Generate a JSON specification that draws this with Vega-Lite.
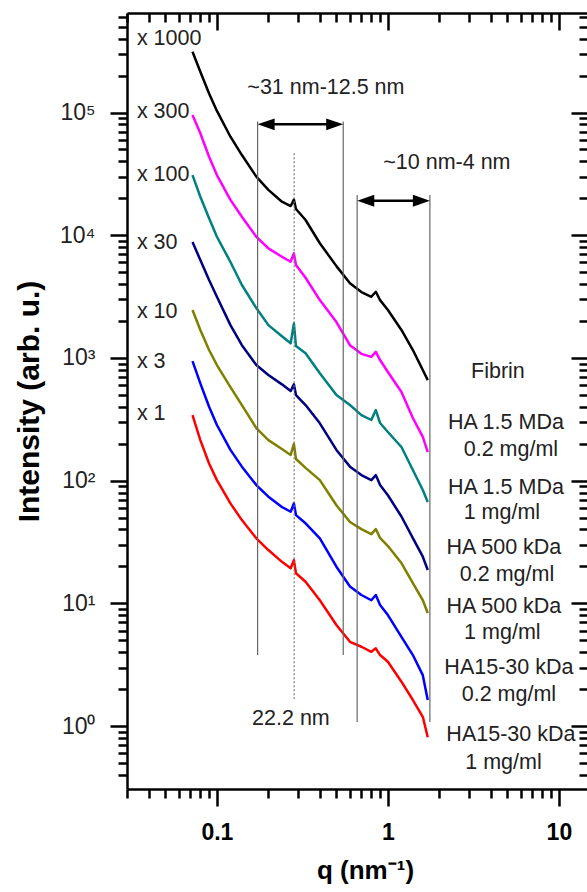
{
  "$schema": "https://vega.github.io/schema/vega-lite/v6.json",
  "width": 461,
  "height": 776,
  "autosize": "none",
  "padding": {"left": 127, "top": 13, "right": 0, "bottom": 103},
  "background": "white",
  "config": {"font": "Liberation Sans", "view": {"stroke": null}},
  "datasets": {
    "curves": [
      {"q": 0.072, "Fibrin": 313000, "M02": 95400, "M1": 30900, "K02": 8800, "K1": 2460, "S02": 943, "S1": 342},
      {"q": 0.08, "Fibrin": 215000, "M02": 67700, "M1": 20600, "K02": 6280, "K1": 1690, "S02": 621, "S1": 214},
      {"q": 0.09, "Fibrin": 143000, "M02": 43600, "M1": 13730, "K02": 4310, "K1": 1160, "S02": 400, "S1": 138},
      {"q": 0.1, "Fibrin": 103000, "M02": 30900, "M1": 9720, "K02": 3150, "K1": 875, "S02": 284, "S1": 101},
      {"q": 0.12, "Fibrin": 63500, "M02": 19400, "M1": 6050, "K02": 1850, "K1": 579, "S02": 178, "S1": 65.3},
      {"q": 0.14, "Fibrin": 45000, "M02": 14150, "M1": 3930, "K02": 1270, "K1": 413, "S02": 130, "S1": 47.7},
      {"q": 0.17, "Fibrin": 30000, "M02": 9720, "M1": 2550, "K02": 875, "K1": 268, "S02": 92, "S1": 33.9},
      {"q": 0.2, "Fibrin": 23400, "M02": 7820, "M1": 1850, "K02": 725, "K1": 214, "S02": 74, "S1": 27.2},
      {"q": 0.24, "Fibrin": 18750, "M02": 6680, "M1": 1500, "K02": 609, "K1": 181, "S02": 61, "S1": 21.8},
      {"q": 0.27, "Fibrin": 17300, "M02": 6080, "M1": 1315, "K02": 537, "K1": 162, "S02": 55.8, "S1": 19.3},
      {"q": 0.282, "Fibrin": 19500, "M02": 7120, "M1": 1910, "K02": 609, "K1": 199, "S02": 65.3, "S1": 22.5},
      {"q": 0.29, "Fibrin": 16350, "M02": 5720, "M1": 1250, "K02": 498, "K1": 150, "S02": 52.4, "S1": 17.6},
      {"q": 0.33, "Fibrin": 13300, "M02": 4500, "M1": 1090, "K02": 413, "K1": 127, "S02": 44.9, "S1": 15.0},
      {"q": 0.4, "Fibrin": 8600, "M02": 2960, "M1": 749, "K02": 293, "K1": 101, "S02": 33.9, "S1": 10.6},
      {"q": 0.5, "Fibrin": 5600, "M02": 1960, "M1": 498, "K02": 178, "K1": 63, "S02": 19.9, "S1": 6.66},
      {"q": 0.6, "Fibrin": 4060, "M02": 1270, "M1": 413, "K02": 130, "K1": 46, "S02": 13.7, "S1": 4.86},
      {"q": 0.7, "Fibrin": 3440, "M02": 1080, "M1": 342, "K02": 111, "K1": 40.3, "S02": 11.7, "S1": 4.43},
      {"q": 0.8, "Fibrin": 3150, "M02": 1020, "M1": 312, "K02": 101, "K1": 36.7, "S02": 10.6, "S1": 4.03},
      {"q": 0.85, "Fibrin": 3460, "M02": 1120, "M1": 376, "K02": 111, "K1": 40.3, "S02": 11.7, "S1": 4.30},
      {"q": 0.9, "Fibrin": 2960, "M02": 961, "M1": 295, "K02": 92, "K1": 34.1, "S02": 9.68, "S1": 3.79},
      {"q": 1.0, "Fibrin": 2460, "M02": 768, "M1": 249, "K02": 76, "K1": 29.3, "S02": 8.03, "S1": 3.34},
      {"q": 1.2, "Fibrin": 1690, "M02": 527, "M1": 188, "K02": 51, "K1": 21.3, "S02": 5.34, "S1": 2.30},
      {"q": 1.4, "Fibrin": 1160, "M02": 324, "M1": 122, "K02": 34, "K1": 14.6, "S02": 3.79, "S1": 1.63},
      {"q": 1.6, "Fibrin": 797, "M02": 227, "M1": 84, "K02": 24, "K1": 10.6, "S02": 2.6, "S1": 1.19},
      {"q": 1.71, "Fibrin": 660, "M02": 171, "M1": 67, "K02": 18.7, "K1": 8.34, "S02": 1.63, "S1": 0.81}
    ],
    "vlines": [
      {"q": 0.173, "top": 84500, "bot": 3.8},
      {"q": 0.548, "top": 84500, "bot": 3.8},
      {"q": 0.661, "top": 21300, "bot": 1.08},
      {"q": 1.76, "top": 21300, "bot": 1.08}
    ],
    "dotted": [{"q": 0.283, "top": 46500, "bot": 1.66}],
    "shafts": [
      {"q1": 0.19, "q2": 0.49, "y": 80100},
      {"q1": 0.74, "q2": 1.57, "y": 19100}
    ],
    "headsL": [{"q": 0.194, "y": 80100}, {"q": 0.742, "y": 19100}],
    "headsR": [{"q": 0.4886, "y": 80100}, {"q": 1.57, "y": 19100}],
    "labelsC": [
      {"t": "~31 nm-12.5 nm", "q": 0.434, "y": 158000},
      {"t": "~10 nm-4 nm", "q": 2.213, "y": 38800},
      {"t": "22.2 nm", "q": 0.271, "y": 1.14},
      {"t": "Fibrin", "q": 4.40, "y": 768},
      {"t": "HA 1.5 MDa", "q": 4.90, "y": 295},
      {"t": "0.2 mg/ml", "q": 5.24, "y": 178},
      {"t": "HA 1.5 MDa", "q": 4.90, "y": 87.0},
      {"t": "1 mg/ml", "q": 4.64, "y": 54.4},
      {"t": "HA 500 kDa", "q": 4.77, "y": 28.2},
      {"t": "0.2 mg/ml", "q": 4.97, "y": 17.0},
      {"t": "HA 500 kDa", "q": 4.77, "y": 9.33},
      {"t": "1 mg/ml", "q": 4.67, "y": 5.73},
      {"t": "HA15-30 kDa", "q": 5.10, "y": 2.97},
      {"t": "0.2 mg/ml", "q": 5.10, "y": 1.79},
      {"t": "HA15-30 kDa", "q": 5.24, "y": 0.845},
      {"t": "1 mg/ml", "q": 4.74, "y": 0.499}
    ],
    "labelsL": [
      {"t": "x 1000", "q": 0.03405, "y": 397000},
      {"t": "x 300", "q": 0.03405, "y": 101000},
      {"t": "x 100", "q": 0.03405, "y": 30900},
      {"t": "x 30", "q": 0.03405, "y": 8640},
      {"t": "x 10", "q": 0.03405, "y": 2370},
      {"t": "x 3", "q": 0.03405, "y": 926},
      {"t": "x 1", "q": 0.03405, "y": 349}
    ]
  },
  "layer": [
    {
      "data": {"name": "curves"},
      "transform": [{"fold": ["Fibrin", "M02", "M1", "K02", "K1", "S02", "S1"], "as": ["s", "I"]}],
      "mark": {"type": "line", "strokeWidth": 2.5, "strokeJoin": "round"},
      "encoding": {
        "x": {
          "field": "q", "type": "quantitative",
          "scale": {"type": "log", "domain": [0.0298, 14.8], "nice": false},
          "axis": {
            "orient": "bottom",
            "values": [0.03, 0.04, 0.05, 0.06, 0.07, 0.08, 0.09, 0.1, 0.2, 0.3, 0.4, 0.5, 0.6, 0.7, 0.8, 0.9, 1, 2, 3, 4, 5, 6, 7, 8, 9, 10],
            "labelExpr": "datum.value == 0.1 ? '0.1' : datum.value == 1 ? '1' : datum.value == 10 ? '10' : ''",
            "labelFontSize": 23, "labelFontWeight": "bold", "labelColor": "black",
            "labelPadding": 15, "labelOverlap": false, "labelFlush": false, "labelBound": false,
            "tickSize": {"condition": {"test": "datum.value == 0.1 || datum.value == 1 || datum.value == 10", "value": 17}, "value": 9},
            "tickWidth": 2.5, "tickColor": "black",
            "domainColor": "black", "domainWidth": 2.5, "grid": false,
            "title": "q (nm⁻¹)", "titleFontSize": 26, "titleFontWeight": "bold", "titleColor": "black", "titlePadding": 13,
            "titleX": 238, "titleAlign": "center"
          }
        },
        "y": {
          "field": "I", "type": "quantitative",
          "scale": {"type": "log", "domain": [0.307, 647000], "nice": false},
          "axis": {
            "orient": "left",
            "values": [0.4, 0.5, 0.6, 0.7, 0.8, 0.9, 1, 2, 3, 4, 5, 6, 7, 8, 9, 10, 20, 30, 40, 50, 60, 70, 80, 90, 100, 200, 300, 400, 500, 600, 700, 800, 900, 1000, 2000, 3000, 4000, 5000, 6000, 7000, 8000, 9000, 10000, 20000, 30000, 40000, 50000, 60000, 70000, 80000, 90000, 100000, 200000, 300000, 400000, 500000, 600000],
            "labelExpr": "datum.value == 1 ? '10⁰' : datum.value == 10 ? '10¹' : datum.value == 100 ? '10²' : datum.value == 1000 ? '10³' : datum.value == 10000 ? '10⁴' : datum.value == 100000 ? '10⁵' : ''",
            "labelFontSize": 23, "labelColor": "#222",
            "labelPadding": 15, "labelOverlap": false, "labelFlush": false, "labelBound": false,
            "tickSize": {"condition": {"test": "datum.value == 1 || datum.value == 10 || datum.value == 100 || datum.value == 1000 || datum.value == 10000 || datum.value == 100000", "value": 17}, "value": 9},
            "tickWidth": 2.5, "tickColor": "black",
            "domainColor": "black", "domainWidth": 2.5, "grid": false,
            "title": "Intensity (arb. u.)", "titleFontSize": 30, "titleFontWeight": "bold", "titleColor": "black", "titlePadding": 15
          }
        },
        "color": {
          "field": "s", "type": "nominal",
          "scale": {"domain": ["Fibrin", "M02", "M1", "K02", "K1", "S02", "S1"], "range": ["#000000", "#ff00ff", "#008080", "#000080", "#808000", "#0000ff", "#ff0000"]},
          "legend": null
        }
      }
    },
    {
      "data": {"name": "vlines"},
      "mark": {"type": "rule", "color": "#666666", "strokeWidth": 1.2},
      "encoding": {
        "x": {
          "field": "q", "type": "quantitative",
          "scale": {"type": "log", "domain": [0.0298, 14.8], "nice": false},
          "axis": {
            "orient": "top",
            "values": [0.03, 0.04, 0.05, 0.06, 0.07, 0.08, 0.09, 0.1, 0.2, 0.3, 0.4, 0.5, 0.6, 0.7, 0.8, 0.9, 1, 2, 3, 4, 5, 6, 7, 8, 9, 10],
            "labels": false, "title": null,
            "tickSize": {"condition": {"test": "datum.value == 0.1 || datum.value == 1 || datum.value == 10", "value": -17}, "value": -9},
            "tickWidth": 2.5, "tickColor": "black",
            "domainColor": "black", "domainWidth": 2.5, "grid": false
          }
        },
        "y": {
          "field": "top", "type": "quantitative",
          "scale": {"type": "log", "domain": [0.307, 647000], "nice": false},
          "axis": {
            "orient": "right",
            "values": [0.4, 0.5, 0.6, 0.7, 0.8, 0.9, 1, 2, 3, 4, 5, 6, 7, 8, 9, 10, 20, 30, 40, 50, 60, 70, 80, 90, 100, 200, 300, 400, 500, 600, 700, 800, 900, 1000, 2000, 3000, 4000, 5000, 6000, 7000, 8000, 9000, 10000, 20000, 30000, 40000, 50000, 60000, 70000, 80000, 90000, 100000, 200000, 300000, 400000, 500000, 600000],
            "labels": false, "title": null,
            "tickSize": {"condition": {"test": "datum.value == 1 || datum.value == 10 || datum.value == 100 || datum.value == 1000 || datum.value == 10000 || datum.value == 100000", "value": -17}, "value": -9},
            "tickWidth": 2.5, "tickColor": "black",
            "domainColor": "black", "domainWidth": 2.5, "grid": false
          }
        },
        "y2": {"field": "bot"}
      }
    },
    {
      "data": {"name": "dotted"},
      "mark": {"type": "rule", "color": "#777777", "strokeWidth": 1.2, "strokeDash": [2, 2]},
      "encoding": {
        "x": {"field": "q", "type": "quantitative", "scale": {"type": "log", "domain": [0.0298, 14.8], "nice": false}, "axis": null},
        "y": {"field": "top", "type": "quantitative", "scale": {"type": "log", "domain": [0.307, 647000], "nice": false}, "axis": null},
        "y2": {"field": "bot"}
      }
    },
    {
      "data": {"name": "shafts"},
      "mark": {"type": "rule", "color": "black", "strokeWidth": 2.5},
      "encoding": {
        "x": {"field": "q1", "type": "quantitative", "scale": {"type": "log", "domain": [0.0298, 14.8], "nice": false}, "axis": null},
        "x2": {"field": "q2"},
        "y": {"field": "y", "type": "quantitative", "scale": {"type": "log", "domain": [0.307, 647000], "nice": false}, "axis": null}
      }
    },
    {
      "data": {"name": "headsL"},
      "mark": {"type": "point", "shape": "M1,-0.7L-1,0L1,0.7Z", "size": 289, "filled": true, "color": "black", "opacity": 1, "strokeWidth": 0},
      "encoding": {
        "x": {"field": "q", "type": "quantitative", "scale": {"type": "log", "domain": [0.0298, 14.8], "nice": false}, "axis": null},
        "y": {"field": "y", "type": "quantitative", "scale": {"type": "log", "domain": [0.307, 647000], "nice": false}, "axis": null}
      }
    },
    {
      "data": {"name": "headsR"},
      "mark": {"type": "point", "shape": "M-1,-0.7L1,0L-1,0.7Z", "size": 289, "filled": true, "color": "black", "opacity": 1, "strokeWidth": 0},
      "encoding": {
        "x": {"field": "q", "type": "quantitative", "scale": {"type": "log", "domain": [0.0298, 14.8], "nice": false}, "axis": null},
        "y": {"field": "y", "type": "quantitative", "scale": {"type": "log", "domain": [0.307, 647000], "nice": false}, "axis": null}
      }
    },
    {
      "data": {"name": "labelsC"},
      "mark": {"type": "text", "align": "center", "baseline": "middle", "fontSize": 21.5, "color": "#222222"},
      "encoding": {
        "x": {"field": "q", "type": "quantitative", "scale": {"type": "log", "domain": [0.0298, 14.8], "nice": false}, "axis": null},
        "y": {"field": "y", "type": "quantitative", "scale": {"type": "log", "domain": [0.307, 647000], "nice": false}, "axis": null},
        "text": {"field": "t"}
      }
    },
    {
      "data": {"name": "labelsL"},
      "mark": {"type": "text", "align": "left", "baseline": "middle", "fontSize": 21.5, "color": "#222222"},
      "encoding": {
        "x": {"field": "q", "type": "quantitative", "scale": {"type": "log", "domain": [0.0298, 14.8], "nice": false}, "axis": null},
        "y": {"field": "y", "type": "quantitative", "scale": {"type": "log", "domain": [0.307, 647000], "nice": false}, "axis": null},
        "text": {"field": "t"}
      }
    }
  ],
  "resolve": {"axis": {"x": "independent", "y": "independent"}}
}
